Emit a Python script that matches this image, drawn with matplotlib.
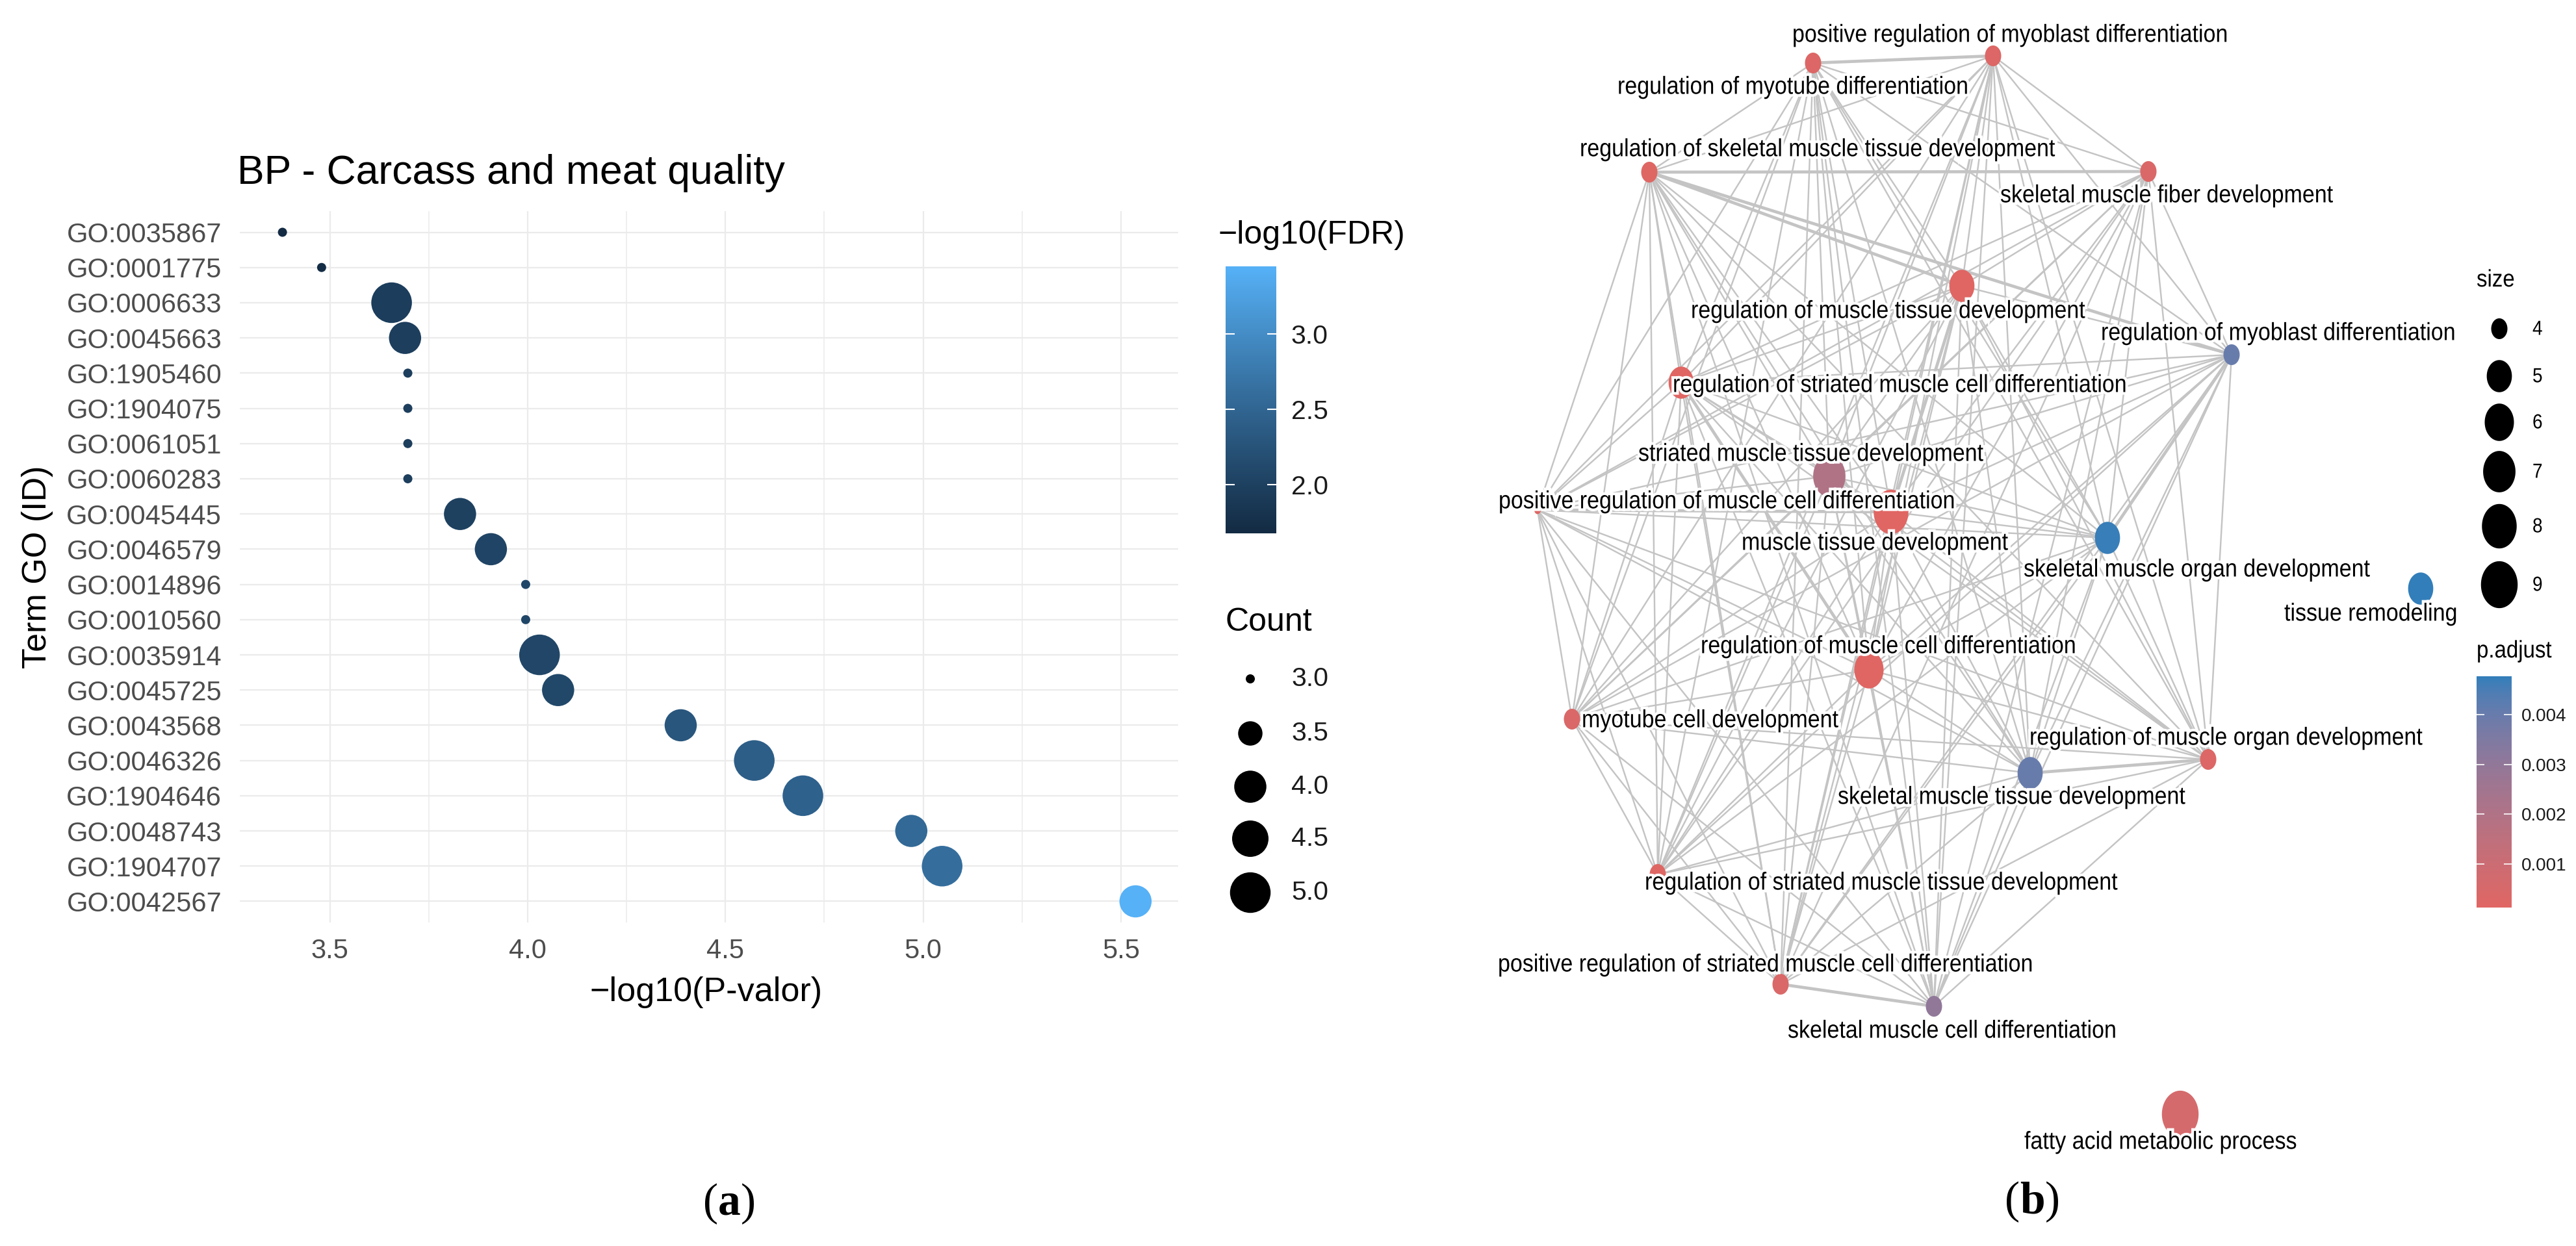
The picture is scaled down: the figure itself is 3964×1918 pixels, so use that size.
import numpy as np
import matplotlib
matplotlib.use("Agg")
import matplotlib.pyplot as plt
from matplotlib.colors import ListedColormap, Normalize
from matplotlib.cm import ScalarMappable
from matplotlib.path import Path
from matplotlib.markers import MarkerStyle
from matplotlib.collections import LineCollection
from matplotlib.textpath import TextPath
from matplotlib.patches import PathPatch
from matplotlib.font_manager import FontProperties
from matplotlib.transforms import Affine2D
import matplotlib.patheffects as pe
from matplotlib.offsetbox import TextArea, HPacker, AnnotationBbox

plt.rcParams['font.family'] = ['Liberation Sans', 'DejaVu Sans']

# ---------------- Panel (a) data ----------------
go_ids = ["GO:0035867", "GO:0001775", "GO:0006633", "GO:0045663", "GO:1905460",
          "GO:1904075", "GO:0061051", "GO:0060283", "GO:0045445", "GO:0046579",
          "GO:0014896", "GO:0010560", "GO:0035914", "GO:0045725", "GO:0043568",
          "GO:0046326", "GO:1904646", "GO:0048743", "GO:1904707", "GO:0042567"]
neg_log10_p = [3.380, 3.479, 3.656, 3.690, 3.697, 3.697, 3.697, 3.697, 3.829, 3.907,
               3.995, 3.995, 4.030, 4.077, 4.387, 4.573, 4.696, 4.970, 5.048, 5.537]
counts = [3, 3, 5, 4, 3, 3, 3, 3, 4, 4, 3, 3, 5, 4, 4, 5, 5, 4, 5, 4]
neg_log10_fdr = [1.68, 1.72, 1.95, 1.97, 1.97, 1.97, 1.97, 1.97, 2.00, 2.05,
                 2.07, 2.07, 2.08, 2.10, 2.30, 2.40, 2.45, 2.55, 2.62, 3.45]
x_ticks = [3.5, 4.0, 4.5, 5.0, 5.5]
x_minor = [3.75, 4.25, 4.75, 5.25]
fdr_ticks = [2.0, 2.5, 3.0]
count_breaks = [3.0, 3.5, 4.0, 4.5, 5.0]

# ---------------- Panel (b) data ----------------
terms = ["positive regulation of myoblast differentiation",
         "regulation of myotube differentiation",
         "regulation of skeletal muscle tissue development",
         "skeletal muscle fiber development",
         "regulation of muscle tissue development",
         "regulation of myoblast differentiation",
         "regulation of striated muscle cell differentiation",
         "striated muscle tissue development",
         "positive regulation of muscle cell differentiation",
         "muscle tissue development",
         "skeletal muscle organ development",
         "tissue remodeling",
         "regulation of muscle cell differentiation",
         "myotube cell development",
         "regulation of muscle organ development",
         "skeletal muscle tissue development",
         "regulation of striated muscle tissue development",
         "positive regulation of striated muscle cell differentiation",
         "skeletal muscle cell differentiation",
         "fatty acid metabolic process"]
# graph layout (picture pixel units)
node_x = [3067, 2790, 2538, 3306, 3019, 3434, 2587, 2815, 2366, 2910,
          3243, 3725, 2876, 2419, 3398, 3124, 2551, 2740, 2976, 3355]
node_y = [86, 97, 265, 264, 440, 546, 589, 733, 785, 788,
          828, 906, 1031, 1107, 1169, 1190, 1346, 1515, 1549, 1715]
node_size = [4, 4, 4, 4, 5, 4, 5, 7, 3, 8, 5, 5, 6, 4, 4, 5, 4, 4, 4, 9]
node_padj = [0.0003, 0.0003, 0.0002, 0.0004, 0.00015, 0.0040, 0.00012, 0.0020, 0.0002, 0.00012,
             0.0047, 0.00477, 0.00015, 0.0004, 0.0003, 0.0040, 0.0002, 0.0004, 0.0030, 0.0006]
label_x = [2758, 2489, 2431, 3078, 2602, 3233, 2574, 2521, 2306, 2680,
           3114, 3515, 2617, 2434, 3123, 2828, 2531, 2305, 2751, 3115]
label_y = [53, 133, 229, 300, 478, 512, 592, 698, 771, 835,
           876, 944, 994, 1108, 1135, 1226, 1358, 1484, 1586, 1757]
edges_from = {
    0: [1, 2, 3, 4, 5, 6, 7, 8, 9, 10, 12, 13, 14, 15, 16, 17, 18],
    1: [2, 3, 4, 5, 6, 7, 8, 9, 10, 12, 13, 14, 15, 16, 17, 18],
    2: [3, 4, 5, 6, 7, 8, 9, 10, 12, 13, 14, 15, 16, 17, 18],
    3: [4, 5, 6, 7, 8, 9, 10, 12, 13, 14, 15, 16, 17, 18],
    4: [5, 6, 7, 8, 9, 10, 12, 13, 14, 15, 16, 17, 18],
    5: [6, 7, 8, 9, 10, 12, 13, 14, 15, 16, 17, 18],
    6: [7, 8, 9, 10, 12, 13, 14, 15, 16, 17, 18],
    7: [8, 9, 10, 12, 13, 14, 15, 16, 17, 18],
    8: [9, 10, 12, 13, 14, 15, 16, 17, 18],
    9: [10, 12, 13, 14, 15, 16, 17, 18],
    10: [12, 13, 14, 15, 16, 17, 18],
    12: [13, 14, 15, 16, 17, 18],
    13: [14, 15, 16, 17, 18],
    14: [15, 16, 17, 18],
    15: [16, 17, 18],
    16: [17, 18],
    17: [18],
}
strong_edges = [(0, 1), (2, 3), (2, 4), (2, 5), (17, 18), (14, 15), (5, 10), (8, 9), (6, 12), (4, 9)]
size_breaks = [4, 5, 6, 7, 8, 9]
padj_ticks = [0.001, 0.002, 0.003, 0.004]

# ---------------- helpers ----------------
W, H = 3964, 1918
DPI = 100
PT = 72.0 / DPI  # points per pixel


def _lin(c):
    return np.where(c <= 0.04045, c / 12.92, ((c + 0.055) / 1.055) ** 2.4)


def _delin(c):
    c = np.clip(c, 0, None)
    return np.where(c <= 0.0031308, 12.92 * c, 1.055 * c ** (1 / 2.4) - 0.055)


_M = np.array([[0.4124, 0.3576, 0.1805], [0.2126, 0.7152, 0.0722], [0.0193, 0.1192, 0.9505]])
_WHITE = np.array([0.95047, 1.0, 1.08883])


def _hex(h):
    h = h.lstrip('#')
    return np.array([int(h[i:i + 2], 16) / 255 for i in (0, 2, 4)])


def _rgb2lab(rgb):
    xyz = _M @ _lin(rgb) / _WHITE
    f = np.where(xyz > 0.008856, np.cbrt(xyz), 7.787 * xyz + 16 / 116)
    return np.array([116 * f[1] - 16, 500 * (f[0] - f[1]), 200 * (f[1] - f[2])])


def _lab2rgb(lab):
    fy = (lab[0] + 16) / 116
    fx = fy + lab[1] / 500
    fz = fy - lab[2] / 200
    f = np.array([fx, fy, fz])
    xyz = np.where(f ** 3 > 0.008856, f ** 3, (f - 16 / 116) / 7.787) * _WHITE
    return np.clip(_delin(np.linalg.solve(_M, xyz)), 0, 1)


def lab_cmap(c1, c2):
    l1, l2 = _rgb2lab(_hex(c1)), _rgb2lab(_hex(c2))
    t = np.linspace(0, 1, 256)
    return ListedColormap([_lab2rgb((1 - s) * l1 + s * l2) for s in t])


cmap_fdr = lab_cmap('#132B43', '#56B1F7')
cmap_padj = lab_cmap('#e06663', '#327eba')

# dot diameters (px) used by the size scales
count_diam = {3.0: 14, 3.5: 37.5, 4.0: 49.5, 4.5: 56, 5.0: 62.5}
node_width = {3: 10, 4: 25, 5: 38.7, 6: 45, 7: 49.8, 8: 53.5, 9: 56.5}
STRETCH = 1.28      # panel (b) picture is stretched vertically
TXT_STRETCH = 1.12


def s_from_px(d):
    return (np.asarray(d) * PT) ** 2


t = np.linspace(0, 2 * np.pi, 73)
ell_marker = MarkerStyle(Path(np.column_stack([np.cos(t) / STRETCH, np.sin(t)])))

fig = plt.figure(figsize=(W / DPI, H / DPI), dpi=DPI)
fig.patch.set_facecolor('white')

# ---------------- Panel (a) ----------------
pl, pr, pt_, pb = 369, 1813, 325, 1420
ax = fig.add_axes([pl / W, 1 - pb / H, (pr - pl) / W, (pb - pt_) / H])
ypos = np.arange(len(go_ids))
norm_fdr = Normalize(min(neg_log10_fdr), max(neg_log10_fdr))
ax.scatter(neg_log10_p, ypos,
           s=s_from_px([count_diam[float(c)] for c in counts]),
           c=neg_log10_fdr, cmap=cmap_fdr, norm=norm_fdr, linewidths=0, zorder=3)
xmin, xmax = min(neg_log10_p), max(neg_log10_p)
ax.set_xlim(xmin - 0.05 * (xmax - xmin), xmax + 0.05 * (xmax - xmin))
ax.set_ylim(len(go_ids) - 0.4, -0.6)
ax.set_yticks(ypos)
ax.set_yticklabels(go_ids)
ax.set_xticks(x_ticks)
ax.set_xticklabels([f"{v:.1f}" for v in x_ticks])
ax.set_xticks(x_minor, minor=True)
ax.grid(True, which='major', color='#EBEBEB', linewidth=1.6)
ax.grid(True, which='minor', axis='x', color='#EBEBEB', linewidth=1.1)
ax.set_axisbelow(True)
for sp in ax.spines.values():
    sp.set_visible(False)
ax.tick_params(axis='y', length=0, pad=20, labelsize=30, labelcolor='#4D4D4D')
ax.tick_params(axis='x', which='both', length=0, pad=17.5, labelsize=30, labelcolor='#4D4D4D')
ax.set_xlabel('\u2212log10(P-valor)', fontsize=37.5, color='black')
ax.xaxis.set_label_coords(0.497, -(1528 - pb) / (pb - pt_))
ax.xaxis.label.set_va('center')
ax.set_ylabel('Term GO (ID)', fontsize=37.5, color='black')
ax.yaxis.set_label_coords((57.6 - pl) / (pr - pl), 0.5)
ax.yaxis.label.set_va('center')
ax.text(-0.003, (pb - 267) / (pb - pt_), 'BP - Carcass and meat quality', transform=ax.transAxes,
        ha='left', va='center', fontsize=45, color='black')

# FDR colorbar
cax = fig.add_axes([1885.5 / W, 1 - 820.5 / H, 78.5 / W, 410.5 / H])
cb = fig.colorbar(ScalarMappable(norm=norm_fdr, cmap=cmap_fdr), cax=cax)
cb.outline.set_visible(False)
cb.set_ticks(fdr_ticks)
cb.set_ticklabels([f"{v:.1f}" for v in fdr_ticks])
cax.tick_params(axis='y', which='both', direction='in', left=True, right=True, length=10,
                width=1.5, color='white', labelsize=29.5, labelcolor='#1A1A1A', pad=16.5)
cax.minorticks_off()

# ---------------- overlay axes (pixel units) ----------------
ov = fig.add_axes([0, 0, 1, 1])
ov.set_xlim(0, W)
ov.set_ylim(H, 0)
ov.axis('off')
ov.patch.set_alpha(0)

fig.text(1875 / W, 1 - 362 / H, '\u2212log10(FDR)', fontsize=36, ha='left', va='center')
fig.text(1885 / W, 1 - 958 / H, 'Count', fontsize=36, ha='left', va='center')
cnt_y = [1045, 1129, 1211, 1291, 1374]
ov.scatter([1924] * len(count_breaks), cnt_y, s=s_from_px([count_diam[b] for b in count_breaks]),
           c='black', linewidths=0)
for b, yy in zip(count_breaks, cnt_y):
    ov.text(1987, yy, f"{b:.1f}", fontsize=29.5, ha='left', va='center', color='#1A1A1A')

# ---------------- Panel (b): network ----------------
FP = FontProperties(family='Liberation Sans')
halo = [pe.withStroke(linewidth=6, foreground='white')]


def stretched_text(x, yc, s, size_px, color='black', effects=None, z=3):
    tp = TextPath((0, 0), s, size=size_px, prop=FP)
    base = yc + 0.30 * size_px * TXT_STRETCH
    tr = Affine2D().scale(1, -TXT_STRETCH).translate(x, base) + ov.transData
    patch = PathPatch(tp, transform=tr, facecolor=color, edgecolor='none', lw=0, zorder=z)
    if effects:
        patch.set_path_effects(effects)
    ov.add_patch(patch)


segs, lws = [], []
for i, js in edges_from.items():
    for j in js:
        segs.append([(node_x[i], node_y[i]), (node_x[j], node_y[j])])
        lws.append(3.4 if (i, j) in strong_edges else 1.75)
ov.add_collection(LineCollection(segs, colors='#C4C4C4', linewidths=lws, zorder=1,
                                 capstyle='round'))
norm_padj = Normalize(min(node_padj), max(node_padj))
heights = [node_width[s] * STRETCH for s in node_size]
ov.scatter(node_x, node_y, s=s_from_px(heights), c=node_padj, cmap=cmap_padj, norm=norm_padj,
           marker=ell_marker, linewidths=0, zorder=2)
for name, lx, ly in zip(terms, label_x, label_y):
    stretched_text(lx, ly, name, 34, effects=halo)

# size legend
stretched_text(3811, 430, 'size', 33)
size_y = [506, 579, 650, 726, 810, 900]
ov.scatter([3846] * len(size_breaks), size_y,
           s=s_from_px([node_width[b] * STRETCH for b in size_breaks]),
           c='black', marker=ell_marker, linewidths=0)
for b, yy in zip(size_breaks, size_y):
    stretched_text(3897, yy, str(b), 28)

# p.adjust colorbar
stretched_text(3811, 1001, 'p.adjust', 33)
cax2 = fig.add_axes([3811 / W, 1 - 1397 / H, 54 / W, 356 / H])
cb2 = fig.colorbar(ScalarMappable(norm=norm_padj, cmap=cmap_padj), cax=cax2)
cb2.outline.set_visible(False)
cb2.set_ticks(padj_ticks)
cb2.set_ticklabels([f"{v:.3f}" for v in padj_ticks])
cax2.tick_params(axis='y', which='both', direction='in', left=True, right=True, length=8.5,
                 width=1.2, color='white', labelsize=20, labelcolor='#1A1A1A', pad=11)
cax2.minorticks_off()


# panel letters
def panel_label(letter, xc, yc):
    tp = dict(family='Liberation Serif', size=50, color='black')
    parts = [TextArea('(', textprops=tp),
             TextArea(letter, textprops=dict(tp, weight='bold')),
             TextArea(')', textprops=tp)]
    box = HPacker(children=parts, align='baseline', pad=0, sep=0)
    ab = AnnotationBbox(box, (xc / W, 1 - yc / H), xycoords='figure fraction',
                        frameon=False, box_alignment=(0.5, 0.5))
    fig.add_artist(ab)


panel_label('a', 1122, 1853)
panel_label('b', 3127, 1850)

fig.savefig('out.png', dpi=DPI, facecolor='white')
